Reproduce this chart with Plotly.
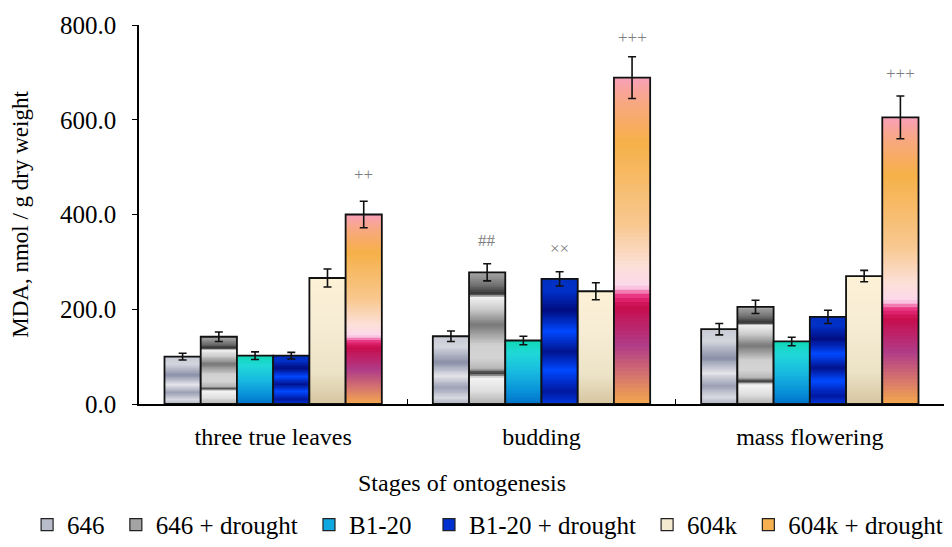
import plotly.graph_objects as go

# ---------------- data ----------------
stages = ["three true leaves", "budding", "mass flowering"]
series_names = ["646", "646 + drought", "B1-20", "B1-20 + drought", "604k", "604k + drought"]

v_646 = [100, 143, 158]
v_646_d = [142, 278, 205]
v_b120 = [102, 134, 132]
v_b120_d = [102, 264, 184]
v_604k = [266, 238, 270]
v_604k_d = [400, 689, 605]

e_646 = [7, 11, 12]
e_646_d = [10, 18, 14]
e_b120 = [8, 9, 9]
e_b120_d = [7, 15, 14]
e_604k = [19, 18, 12]
e_604k_d = [28, 44, 45]

sig_labels = ["++", "##", "××", "+++", "+++"]
sig_stage = [0, 1, 1, 1, 2]
sig_series = [5, 1, 3, 5, 5]
sig_y = [485, 346, 329, 774, 698]

values = [v_646, v_646_d, v_b120, v_b120_d, v_604k, v_604k_d]
errors = [e_646, e_646_d, e_b120, e_b120_d, e_604k, e_604k_d]

# ---------------- styling ----------------
# vertical gradient stops (fraction of bar height, colour), bottom -> top
gradients = [
    [(0, "#a8acbc"), (0.1, "#d8d9e1"), (0.25, "#9ca0b4"), (0.42, "#e4e4ea"),
     (0.62, "#8a90a8"), (0.85, "#d4d6de"), (1, "#c8cad4")],
    [(0, "#b0b0b0"), (0.1, "#e0e0e0"), (0.2, "#f4f4f4"), (0.235, "#303030"),
     (0.27, "#b8b8b8"), (0.35, "#d4d4d4"), (0.45, "#d0d0d0"), (0.6, "#787878"),
     (0.72, "#cccccc"), (0.81, "#f0f0f0"), (0.835, "#303030"), (0.9, "#707070"),
     (1, "#a8a8a8")],
    [(0, "#0070c8"), (0.2, "#0890d8"), (0.5, "#18b8e0"), (0.8, "#20d8d8"), (1, "#10d8b8")],
    [(0, "#0038e0"), (0.1, "#0018a0"), (0.27, "#0048ff"), (0.42, "#001490"),
     (0.58, "#0048ff"), (0.75, "#000c80"), (0.9, "#0030c8"), (1, "#0030c0")],
    [(0, "#d6c6a0"), (0.25, "#ece2c6"), (0.6, "#f6ecd4"), (1, "#fdf1d6")],
    [(0, "#f4a84c"), (0.08, "#d8786c"), (0.18, "#b03c88"), (0.3, "#c80c4c"),
     (0.33, "#e83080"), (0.36, "#fcd8ec"), (0.42, "#fce0d8"), (0.55, "#f8c890"),
     (0.8, "#f6b048"), (0.92, "#f8a880"), (1, "#f8a0b8")],
]
legend_colors = ["#b8bccb", "#a4a4a4", "#10a8e0", "#0030d0", "#f4ead0", "#f6b050"]
legend_pad = [1, 1, 2, 1, 1, 0]   # extra spacing after each legend entry

FONT = "Liberation Serif"
N_SEG = 80
BARGAP = 0.19


def hex2rgb(h):
    h = h.lstrip("#")
    return [int(h[i:i + 2], 16) for i in (0, 2, 4)]


def grad_color(stops, f):
    for (f0, c0), (f1, c1) in zip(stops[:-1], stops[1:]):
        if f0 <= f <= f1:
            t = 0 if f1 == f0 else (f - f0) / (f1 - f0)
            a, b = hex2rgb(c0), hex2rgb(c1)
            r = [round(a[k] + (b[k] - a[k]) * t) for k in range(3)]
            return "rgb(%d,%d,%d)" % tuple(r)
    return stops[-1][1]


fig = go.Figure()

for i, name in enumerate(series_names):
    vals = values[i]
    # gradient fill made of thin stacked, slightly overlapping slices of each bar
    for k in range(N_SEG):
        col = grad_color(gradients[i], (k + 0.5) / N_SEG)
        top = min(k + 1.7, N_SEG)
        fig.add_trace(go.Bar(
            x=stages,
            y=[v * (top - k) / N_SEG for v in vals],
            base=[v * k / N_SEG for v in vals],
            offsetgroup=str(i),
            marker=dict(color=col, line=dict(width=0)),
            showlegend=False, hoverinfo="skip",
        ))
    # outline + error bars
    fig.add_trace(go.Bar(
        x=stages, y=vals, name=name, offsetgroup=str(i),
        marker=dict(color="rgba(0,0,0,0)", line=dict(color="#111111", width=1.8)),
        error_y=dict(type="data", array=errors[i], color="#111111", thickness=1.6, width=4),
        showlegend=False,
    ))

# legend entries
for i, name in enumerate(series_names):
    fig.add_trace(go.Bar(
        x=stages, y=[None] * len(stages), name=name + "\u00a0" * legend_pad[i],
        offsetgroup=str(i),
        marker=dict(color=legend_colors[i], line=dict(color="#222222", width=1.2)),
        showlegend=True,
    ))

# significance marks
bw = (1 - BARGAP) / len(series_names)
for lab, s, j, yv in zip(sig_labels, sig_stage, sig_series, sig_y):
    fig.add_annotation(
        x=s - (1 - BARGAP) / 2 + (j + 0.5) * bw, y=yv, xref="x", yref="y",
        text=lab, showarrow=False, font=dict(family=FONT, size=17, color="#7f7f7f"),
    )

# x axis title (offset to the left as in the original)
fig.add_annotation(
    x=0.401, y=-0.208, xref="paper", yref="paper", text="Stages of ontogenesis",
    showarrow=False, font=dict(family=FONT, size=24, color="black"), yanchor="middle",
)

fig.update_layout(
    width=936, height=531,
    margin=dict(l=131, r=0, t=17, b=135, autoexpand=False),
    paper_bgcolor="white", plot_bgcolor="white",
    barmode="group", bargap=BARGAP, bargroupgap=0,
    font=dict(family=FONT, size=23, color="black"),
    showlegend=True,
    legend=dict(orientation="h", x=-0.139, xanchor="left", y=-0.319, yanchor="middle",
                font=dict(family=FONT, size=25, color="black"), traceorder="normal"),
    xaxis=dict(
        showline=True, linecolor="black", linewidth=1.5,
        ticks="inside", tickson="boundaries", ticklen=5, tickcolor="black",
        showgrid=False, ticklabelstandoff=10,
        tickfont=dict(family=FONT, size=24, color="black"),
    ),
    yaxis=dict(
        range=[0, 800], dtick=200, tickformat=".1f",
        showline=True, linecolor="black", linewidth=1.5,
        ticks="outside", ticklen=5, tickcolor="black",
        showgrid=False, zeroline=False, ticklabelstandoff=11,
        tickfont=dict(family=FONT, size=25, color="black"),
        title=dict(text="MDA, nmol / g dry weight", standoff=29,
                   font=dict(family=FONT, size=23, color="black")),
    ),
)

fig.write_html("out.html")
